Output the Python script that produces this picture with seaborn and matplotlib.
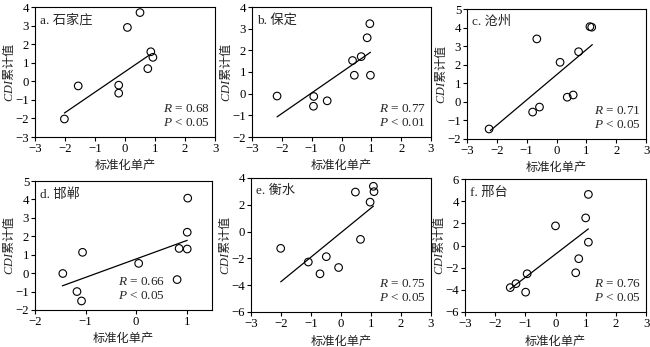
import numpy as np
import pandas as pd
import matplotlib
matplotlib.use("Agg")
import matplotlib.pyplot as plt
import seaborn as sns

# Standardised yield (x) vs. cumulative CDI (y) for six cities
titles = ["a. 石家庄", "b. 保定", "c. 沧州", "d. 邯郸", "e. 衡水", "f. 邢台"]

x_sjz = [-2.02, -1.56, -0.21, -0.21, 0.08, 0.50, 0.76, 0.86, 0.93]
y_sjz = [-2.03, -0.25, -0.21, -0.64, 2.90, 3.70, 0.68, 1.59, 1.29]

x_bd = [-2.16, -0.93, -0.94, -0.48, 0.37, 0.43, 0.66, 0.86, 0.95, 0.97]
y_bd = [-0.11, -0.13, -0.58, -0.33, 1.53, 0.85, 1.71, 2.58, 3.23, 0.85]

x_cz = [-2.26, -0.80, -0.57, -0.66, 0.12, 0.36, 0.56, 0.74, 1.12, 1.18]
y_cz = [-1.46, -0.55, -0.28, 3.39, 2.13, 0.25, 0.37, 2.70, 4.05, 4.02]

x_hd = [-1.45, -1.17, -1.08, -1.06, 0.05, 0.81, 0.85, 1.01, 1.01, 1.02]
y_hd = [-0.02, -1.00, -1.51, 1.13, 0.53, -0.35, 1.34, 2.22, 1.31, 4.07]

x_hs = [-2.01, -1.09, -0.70, -0.49, -0.08, 0.48, 0.65, 0.97, 1.08, 1.10]
y_hs = [-1.25, -2.27, -3.15, -1.87, -2.68, 2.95, -0.58, 2.20, 3.38, 2.98]

x_xt = [-1.50, -1.31, -0.99, -0.94, 0.00, 0.67, 0.77, 1.00, 1.09, 1.09]
y_xt = [-3.80, -3.44, -4.21, -2.55, 1.77, -2.46, -1.19, 2.49, 4.61, 0.30]

# fitted trend lines (start and end of each regression line)
fit_x_sjz, fit_y_sjz = [-2.02, 0.81], [-1.71, 1.41]
fit_x_bd, fit_y_bd = [-2.16, 0.97], [-1.07, 1.91]
fit_x_cz, fit_y_cz = [-2.22, 1.20], [-1.55, 3.08]
fit_x_hd, fit_y_hd = [-1.46, 1.01], [-0.69, 1.78]
fit_x_hs, fit_y_hs = [-2.01, 1.08], [-3.75, 1.90]
fit_x_xt, fit_y_xt = [-1.51, 1.09], [-3.94, 1.50]

r_values = ["0.68", "0.77", "0.71", "0.66", "0.75", "0.76"]
p_values = ["0.05", "0.01", "0.05", "0.05", "0.05", "0.05"]

xs = [x_sjz, x_bd, x_cz, x_hd, x_hs, x_xt]
ys = [y_sjz, y_bd, y_cz, y_hd, y_hs, y_xt]
fit_xs = [fit_x_sjz, fit_x_bd, fit_x_cz, fit_x_hd, fit_x_hs, fit_x_xt]
fit_ys = [fit_y_sjz, fit_y_bd, fit_y_cz, fit_y_hd, fit_y_hs, fit_y_xt]

x_limits = [(-3, 3), (-3, 3), (-3, 3), (-2, 1.5), (-3, 3), (-3, 3)]
y_limits = [(-3, 4), (-2, 4), (-2, 5), (-2, 5), (-6, 4), (-6, 6)]
x_ticks = [range(-3, 4), range(-3, 4), range(-3, 4), range(-2, 2), range(-3, 4), range(-3, 4)]
y_ticks = [range(-3, 5), range(-2, 5), range(-2, 6), range(-2, 6), range(-6, 5, 2), range(-6, 7, 2)]

# panel boxes in pixels: left, right, top, bottom
boxes = [(35, 215, 7, 137), (252, 431, 7, 137), (467, 646, 9, 139),
         (35, 212, 181, 310), (251, 431, 178, 312), (465, 646, 179, 312)]
stat_x = [0.972, 0.972, 0.972, 0.735, 0.972, 0.972]

sns.set_theme(style="ticks")
plt.rcParams["font.family"] = ["Liberation Serif", "Noto Sans CJK SC"]
plt.rcParams["mathtext.fontset"] = "custom"
plt.rcParams["mathtext.it"] = "Liberation Serif:italic"
plt.rcParams["mathtext.rm"] = "Liberation Serif"
plt.rcParams["axes.unicode_minus"] = True

W, H = 650, 347
fig = plt.figure(figsize=(W / 100, H / 100), dpi=100)

for i in range(6):
    l, r, t, b = boxes[i]
    ax = fig.add_axes([l / W, 1 - b / H, (r - l) / W, (b - t) / H])
    pts = pd.DataFrame({"x": xs[i], "y": ys[i]})
    fit = pd.DataFrame({"x": fit_xs[i], "y": fit_ys[i]})
    sns.lineplot(data=fit, x="x", y="y", ax=ax, color="black", lw=0.9,
                 sort=False, estimator=None)
    sns.scatterplot(data=pts, x="x", y="y", ax=ax, s=30, facecolor="none",
                    edgecolor="black", linewidth=0.8, zorder=3)
    ax.set_xlim(*x_limits[i])
    ax.set_ylim(*y_limits[i])
    ax.set_xticks(list(x_ticks[i]))
    ax.set_yticks(list(y_ticks[i]))
    ax.tick_params(direction="out", length=3, width=0.8, labelsize=9.2,
                   colors="black", pad=1.2)
    for sp in ax.spines.values():
        sp.set_visible(True)
        sp.set_color("black")
        sp.set_linewidth(0.8)

    ax.set_xlabel("标准化单产", fontsize=8.8, family=["Noto Sans CJK SC"], color="#222222")
    ax.set_ylabel(r"$CDI$累计值", fontsize=8.8, family=["Noto Sans CJK SC"], color="#222222")
    ax.xaxis.set_label_coords(0.5, -0.17)
    ax.yaxis.set_label_coords(-0.106, 0.5)

    ax.text(0.03, 0.945, titles[i], transform=ax.transAxes, ha="left", va="top",
            fontsize=9.5)
    ax.text(stat_x[i], 0.06,
            "$R$ = " + r_values[i] + "\n$P$ < " + p_values[i],
            transform=ax.transAxes, ha="right", va="bottom", fontsize=9.5,
            linespacing=1.2)

fig.savefig("out.png", dpi=100)
